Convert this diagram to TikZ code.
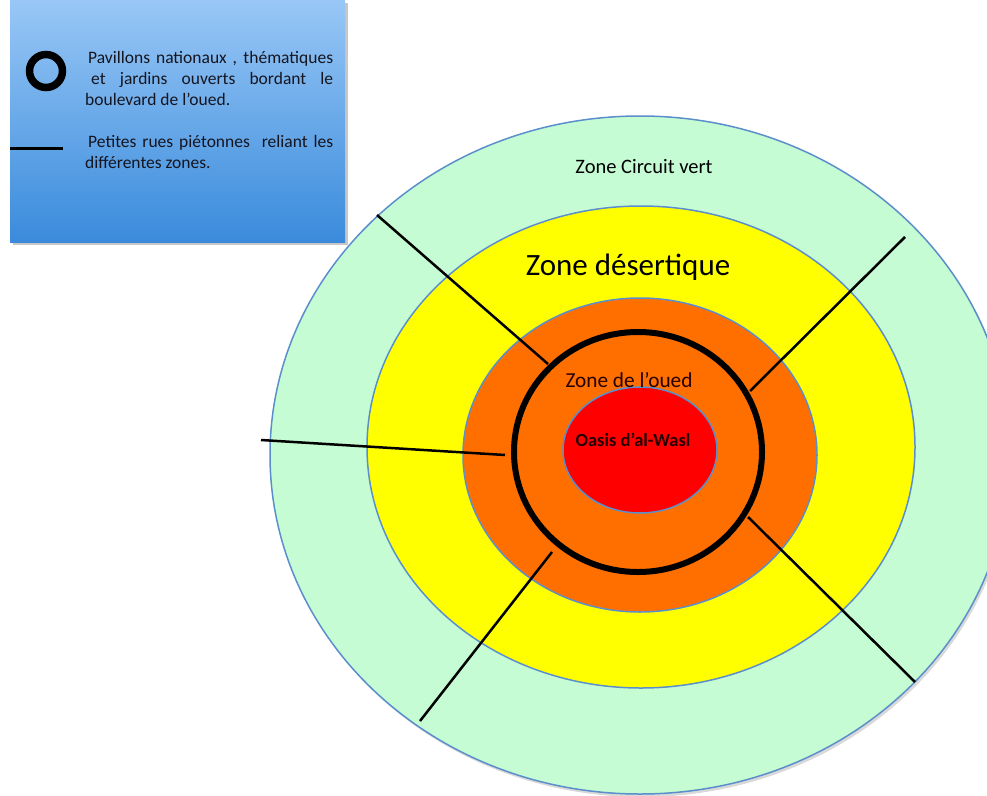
\documentclass[tikz,border=0pt]{standalone}
\usepackage{fontspec}
\setmainfont{Carlito}
\definecolor{zgreen}{HTML}{C6FCD3}
\definecolor{zyellow}{HTML}{FFFF00}
\definecolor{zorange}{HTML}{FF6F00}
\definecolor{zred}{HTML}{FF0000}
\definecolor{zedge}{HTML}{5B8FCC}
\definecolor{legtop}{HTML}{98C7F6}
\definecolor{legbot}{HTML}{3A8BDC}
\definecolor{legtext}{HTML}{15151F}
\tikzset{
  zone/.style={draw=zedge, line width=1.5pt},
  street/.style={draw=black, line width=2.5pt},
  lab/.style={inner sep=0pt, text=black},
  legpar/.style={inner sep=0pt, text=legtext, anchor=north west, text width=248pt,
    align=justify, font=\fontsize{17.5}{21}\selectfont},
}
\begin{document}
\begin{tikzpicture}[x=1pt,y=-1pt]
\useasboundingbox (0,0) rectangle (987,795);
\clip (0,0) rectangle (987,795);
% legend box
\fill[black!22] (13,3) rectangle (348,245);
\shade[top color=legtop, bottom color=legbot] (10,0) rectangle (345,242);
\draw[line width=7.5pt] (46,71) circle (16.5);
\coordinate (legA) at (10,148);
\coordinate (legB) at (63,148);
\draw[line width=3pt] (legA) -- (legB);
\node[legpar] (legtxt1) at (85,51)
  {\hspace*{3pt}Pavillons nationaux , thématiques\linebreak\hspace*{6pt}et jardins ouverts bordant le\linebreak boulevard de l’oued.};
\node[legpar] (legtxt2) at (85,135)
  {\hspace*{3pt}Petites rues piétonnes \ reliant les\linebreak différentes zones.};
% zones
\coordinate (cg) at (640,455);
\coordinate (cy) at (641,447);
\coordinate (co) at (640,455);
\coordinate (cr) at (640,450);
\coordinate (cb) at (638,452);
\fill[black!15] (642,458) ellipse (370 and 339);
\filldraw[zone, fill=zgreen] (cg) ellipse (370 and 339);
\filldraw[zone, fill=zyellow] (cy) ellipse (274 and 241);
\filldraw[zone, fill=zorange] (co) ellipse (177 and 157);
\filldraw[zone, fill=zred] (cr) ellipse (77 and 63);
% streets
\coordinate (s1a) at (377,215); \coordinate (s1b) at (548,364);
\coordinate (s2a) at (905,237); \coordinate (s2b) at (750,391);
\coordinate (s3a) at (261,440); \coordinate (s3b) at (505,455);
\coordinate (s4a) at (420,721); \coordinate (s4b) at (552,552);
\coordinate (s5a) at (915,682); \coordinate (s5b) at (748,517);
\draw[street] (s1a) -- (s1b);
\draw[street] (s2a) -- (s2b);
\draw[street] (s3a) -- (s3b);
\draw[street] (s4a) -- (s4b);
\draw[street] (s5a) -- (s5b);
% boulevard ring
\draw[line width=6pt] (cb) ellipse (124 and 120);
% labels
\node[lab] (zcv) at (644,167) {\fontsize{20.5}{24}\selectfont Zone Circuit vert};
\node[lab] (zd) at (628,267) {\fontsize{31}{36}\selectfont Zone désertique};
\node[lab, text=black!85!red] (zo) at (629,380) {\fontsize{21.3}{25}\selectfont Zone de l’oued};
\node[lab, text=black!85!red] (oa) at (633,440) {\fontsize{18.5}{22}\selectfont\bfseries Oasis d’al-Wasl};
\end{tikzpicture}
\end{document}
